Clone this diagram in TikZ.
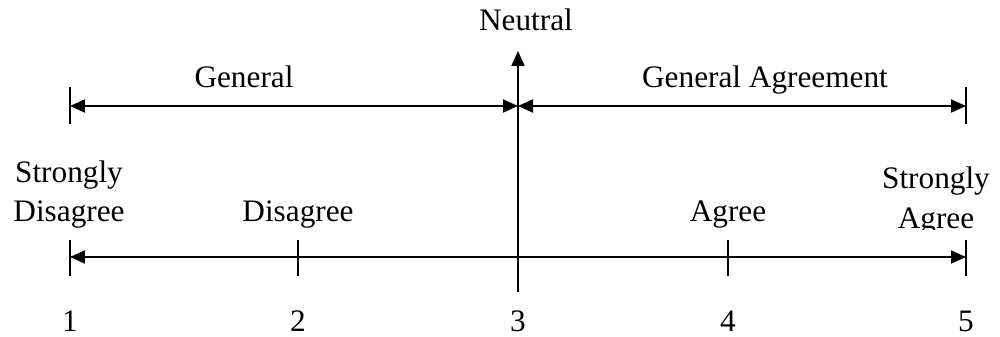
\documentclass[tikz,border=0pt]{standalone}
\usepackage{fontspec}
\setmainfont{Liberation Serif}
\usetikzlibrary{arrows.meta}
\begin{document}
\begin{tikzpicture}[x=0.02cm,y=-0.02cm,
  lbl/.style={font=\fontsize{17.8}{21}\selectfont, inner sep=0pt, anchor=base},
  axis/.style={line width=1.1pt, {Triangle[length=0.3cm,width=0.26cm]}-{Triangle[length=0.3cm,width=0.26cm]}},
  uparrow/.style={line width=1.1pt, -{Triangle[length=0.3cm,width=0.26cm]}},
  tick/.style={line width=1.4pt}]
\useasboundingbox (0,0) rectangle (1000,337);
% coordinates
\coordinate (tl) at (70,106);
\coordinate (tm) at (518,106);
\coordinate (tr) at (966,106);
\coordinate (b1) at (70,257);
\coordinate (b2) at (298,257);
\coordinate (b3) at (518,257);
\coordinate (b4) at (728,257);
\coordinate (b5) at (966,257);
\coordinate (vbot) at (518,292);
\coordinate (vtop) at (518,51);
% ticks
\coordinate (tlA) at (70,87);  \coordinate (tlB) at (70,124);
\coordinate (trA) at (966,87); \coordinate (trB) at (966,124);
\coordinate (b1A) at (70,240); \coordinate (b1B) at (70,276);
\coordinate (b2A) at (298,240); \coordinate (b2B) at (298,276);
\coordinate (b4A) at (728,240); \coordinate (b4B) at (728,276);
\coordinate (b5A) at (966,240); \coordinate (b5B) at (966,276);
\draw[tick] (tlA) -- (tlB);
\draw[tick] (trA) -- (trB);
\draw[tick] (b1A) -- (b1B);
\draw[tick] (b2A) -- (b2B);
\draw[tick] (b4A) -- (b4B);
\draw[tick] (b5A) -- (b5B);
% arrows
\draw[axis] (tl) -- (tm);
\draw[axis] (tm) -- (tr);
\draw[axis] (b1) -- (b5);
\draw[uparrow] (vbot) -- (vtop);
% labels
\node[lbl] (neutral) at (526,31) {Neutral};
\node[lbl] (general) at (244,88) {General};
\node[lbl] (genagree) at (765,88) {General Agreement};
\node[lbl] (sd1) at (69,183) {Strongly};
\node[lbl] (sd2) at (69,222) {Disagree};
\node[lbl] (dis) at (298,222) {Disagree};
\node[lbl] (agr) at (728,222) {Agree};
\begin{scope}
\clip (860,140) rectangle (1000,230);
\node[lbl] (sa1) at (936,189) {Strongly};
\node[lbl] (sa2) at (936,229) {Agree};
\end{scope}
\node[lbl] (n1) at (70,332) {1};
\node[lbl] (n2) at (298,332) {2};
\node[lbl] (n3) at (518,332) {3};
\node[lbl] (n4) at (728,332) {4};
\node[lbl] (n5) at (966,332) {5};
\end{tikzpicture}
\end{document}
